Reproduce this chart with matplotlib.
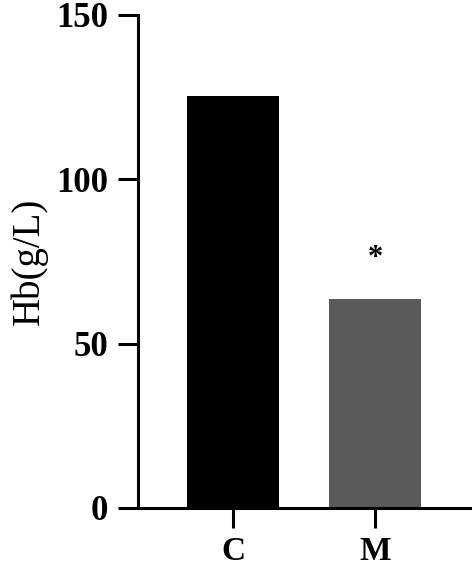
import matplotlib
matplotlib.use("Agg")
from matplotlib import pyplot as plt

# values
groups = ["C", "M"]
hb = [125.5, 63.5]
bar_colors = ["#000000", "#5a5a5a"]
star_y = 76

plt.rcParams["font.family"] = ["Liberation Serif", "DejaVu Serif"]

fig = plt.figure(figsize=(4.72, 5.70), dpi=100)
ax = fig.add_axes([0.2924, 0.1088, 0.7076, 0.8649])

x = list(range(len(groups)))
ax.bar(x, hb, width=0.65, color=bar_colors)
ax.text(1, star_y, "*", ha="center", va="center", fontsize=22, fontweight="bold")

ax.set_ylim(0, 150)
ax.set_xlim(-0.669, 1.683)
ax.set_yticks([0, 50, 100, 150])
ax.set_xticks(x)
ax.set_xticklabels(groups)
ax.set_ylabel("Hb(g/L)", fontsize=28, labelpad=6)

for s in ["top", "right"]:
    ax.spines[s].set_visible(False)
for s in ["left", "bottom"]:
    ax.spines[s].set_linewidth(2.2)

ax.tick_params(axis="both", length=14.5, width=2.2, labelsize=25)
ax.tick_params(axis="y", pad=7)
ax.tick_params(axis="x", pad=6, labelsize=24)
for lab in ax.get_xticklabels() + ax.get_yticklabels():
    lab.set_fontweight("bold")

plt.savefig("out.png", dpi=100)
